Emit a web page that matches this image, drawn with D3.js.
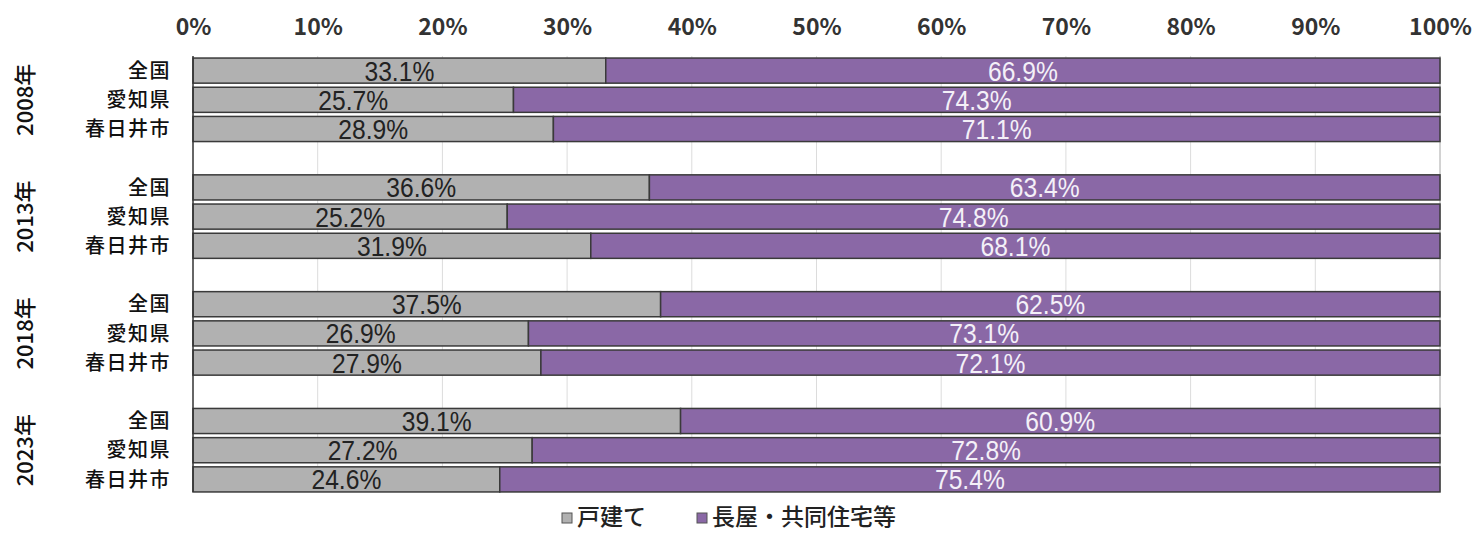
<!DOCTYPE html>
<html><head><meta charset="utf-8">
<script src="https://cdn.jsdelivr.net/npm/d3@7"></script>
<style>body{margin:0;background:#fff}</style>
</head><body>
<svg id="c" width="1475" height="533"></svg>
<script>
const years = ["2008年","2013年","2018年","2023年"];
const regions = ["全国","愛知県","春日井市"];
const detached = [[33.1,25.7,28.9],[36.6,25.2,31.9],[37.5,26.9,27.9],[39.1,27.2,24.6]];
const collective = [[66.9,74.3,71.1],[63.4,74.8,68.1],[62.5,73.1,72.1],[60.9,72.8,75.4]];
const seriesNames = ["戸建て","長屋・共同住宅等"];
const tickValues = [0,10,20,30,40,50,60,70,80,90,100];

const colors = ["#b1b1b1","#8a68a6"];
const svg = d3.select("#c");
const x = d3.scaleLinear().domain([0,100]).range([193,1440]);

const slots = [];
years.forEach((y,gi)=>{ regions.forEach((r,ri)=>slots.push(gi+"-"+ri)); if(gi<years.length-1) slots.push("gap"+gi); });
const yb = d3.scaleBand().domain(slots).range([56,494]).paddingInner(0.14).paddingOuter(0.07);

// gridlines
svg.append("g").selectAll("line").data(tickValues.filter(v=>v>0)).join("line")
  .attr("x1",d=>x(d)).attr("x2",d=>x(d)).attr("y1",56).attr("y2",492)
  .attr("stroke",d=>d===100?"#a6a6a6":"#dcdcdc").attr("stroke-width",1);

// top axis
const ax = d3.axisTop(x).tickValues(tickValues).tickFormat(d=>d+"%").tickSize(0);
const axg = svg.append("g").attr("transform","translate(0,38)").call(ax);
axg.select(".domain").remove();
axg.selectAll("text").attr("font-family","'Noto Sans CJK JP','Noto Sans',sans-serif")
  .attr("font-size",23).attr("font-weight","bold").attr("fill","#333").attr("dy",0);

const rows = [];
years.forEach((yr,gi)=>regions.forEach((r,ri)=>rows.push({key:gi+"-"+ri,gi,ri,region:r,a:detached[gi][ri],b:collective[gi][ri]})));

const fnt = "'Liberation Sans Narrow','Arial Narrow','Liberation Sans',sans-serif";
const bars = svg.append("g");
function label(cx, cy, txt, fill){
  bars.append("text").attr("transform",`translate(${cx},${cy}) scale(0.88,1)`).attr("dy","0.36em")
    .attr("text-anchor","middle").attr("font-family",fnt).attr("font-size",28).attr("fill",fill)
    .text(txt);
}
rows.forEach(d=>{
  const y0 = yb(d.key), h = yb.bandwidth();
  bars.append("rect").attr("x",x(0)).attr("y",y0).attr("width",x(d.a)-x(0)).attr("height",h)
    .attr("fill",colors[0]).attr("stroke","#3a3a3a").attr("stroke-width",1.5);
  bars.append("rect").attr("x",x(d.a)).attr("y",y0).attr("width",x(d.a+d.b)-x(d.a)).attr("height",h)
    .attr("fill",colors[1]).attr("stroke","#3a3a3a").attr("stroke-width",1.5);
  label((x(0)+x(d.a))/2, y0+h/2, d.a.toFixed(1)+"%", "#222");
  label((x(d.a)+x(100))/2, y0+h/2, d.b.toFixed(1)+"%", "#f4f0f8");
  svg.append("text").attr("x",171).attr("y",y0+h/2).attr("dy","0.36em").attr("text-anchor","end")
    .attr("font-family","'Noto Sans CJK JP',sans-serif").attr("font-size",20).attr("font-weight",500).attr("fill","#111")
    .attr("letter-spacing",1.5)
    .text(d.region);
});

// left axis line
svg.append("line").attr("x1",x(0)).attr("x2",x(0)).attr("y1",56).attr("y2",492).attr("stroke","#333").attr("stroke-width",1.5);

// year labels
years.forEach((yr,gi)=>{
  const cy = (yb(gi+"-0") + yb(gi+"-2") + yb.bandwidth())/2;
  svg.append("text").attr("transform",`translate(33,${cy}) rotate(-90)`).attr("text-anchor","middle")
    .attr("font-family","'Noto Sans CJK JP',sans-serif").attr("font-size",22).attr("font-weight",500).attr("fill","#111")
    .text(yr);
});

// legend
const leg = [{x:562},{x:697}];
seriesNames.forEach((s,i)=>{
  svg.append("rect").attr("x",leg[i].x).attr("y",513).attr("width",10).attr("height",10)
    .attr("fill",colors[i]).attr("stroke","#555").attr("stroke-width",1);
  svg.append("text").attr("x",leg[i].x+15).attr("y",523).attr("dy","0.1em")
    .attr("font-family","'Noto Sans CJK JP',sans-serif").attr("font-size",23).attr("font-weight",500).attr("fill","#222")
    .text(s);
});
</script>
</body></html>
